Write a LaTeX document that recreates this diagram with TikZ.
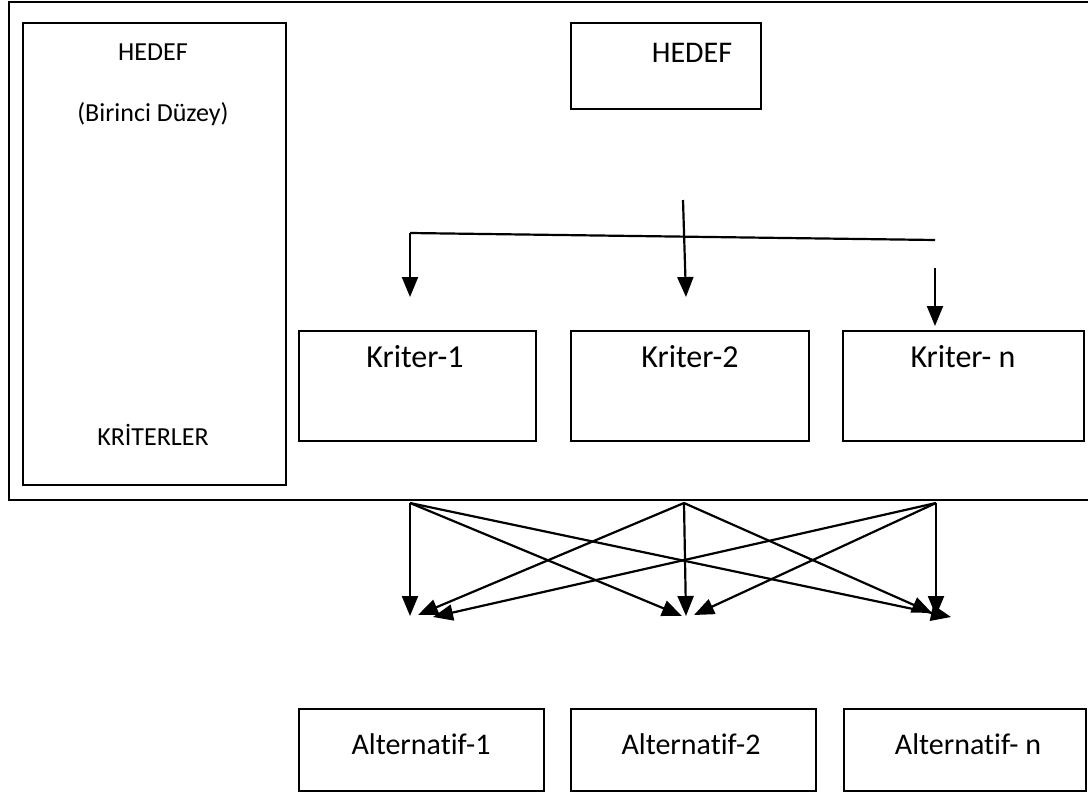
\documentclass[tikz,border=0pt]{standalone}
\usepackage{fontspec}
\setmainfont[Ligatures=NoCommon]{Carlito}
\usetikzlibrary{arrows.meta}
\begin{document}
\begin{tikzpicture}[x=1pt,y=-1pt,
  box/.style={draw, line width=1.7pt, inner sep=0pt, anchor=north west},
  lbl/.style={font=\fontsize{30}{36}\selectfont, inner sep=0pt, anchor=base},
  klbl/.style={font=\fontsize{32}{38}\selectfont, inner sep=0pt, anchor=base},
  slbl/.style={font=\fontsize{26}{31}\selectfont, inner sep=0pt, anchor=base},
  arr/.style={line width=2.2pt, -{Triangle[length=20pt,width=16pt]}},
  ln/.style={line width=2.2pt}]
\useasboundingbox (0,0) rectangle (1088,798);

% outer frame and the level boxes
\node[box, minimum width=1100pt, minimum height=498pt] (frame) at (8,1) {};
\node[box, minimum width=263pt, minimum height=462pt] (level) at (22,22) {};
\node[box, minimum width=190pt, minimum height=86pt] (goal) at (570,22) {};
\node[box, minimum width=237pt, minimum height=110pt] (k1) at (298,330) {};
\node[box, minimum width=238pt, minimum height=110pt] (k2) at (570,330) {};
\node[box, minimum width=241pt, minimum height=110pt] (kn) at (842,330) {};
\node[box, minimum width=245pt, minimum height=82pt] (a1) at (298,708) {};
\node[box, minimum width=245pt, minimum height=82pt] (a2) at (570,708) {};
\node[box, minimum width=242pt, minimum height=82pt] (an) at (843,708) {};

% labels
\node[slbl] (levelT) at (153,60) {HEDEF};
\node[slbl] (levelS) at (153,121) {(Birinci Düzey)};
\node[slbl] (levelB) at (153,445) {KRİTERLER};
\node[lbl] (goalT) at (692,62) {HEDEF};
\node[klbl] (k1T) at (415,367) {Kriter-1};
\node[klbl] (k2T) at (690,367) {Kriter-2};
\node[klbl] (knT) at (963,367) {Kriter- n};
\node[lbl] (a1T) at (421,754) {Alternatif-1};
\node[lbl] (a2T) at (691,754) {Alternatif-2};
\node[lbl] (anT) at (968,754) {Alternatif- n};

% goal to criteria
\coordinate (bl) at (410,233);
\coordinate (br) at (935,240);
\coordinate (hs) at (683,200);
\coordinate (ht) at (686,297);
\coordinate (k1t) at (410,297);
\coordinate (kns) at (935,268);
\coordinate (knt) at (935,326);
\draw[ln] (bl) -- (br);
\draw[arr] (bl) -- (k1t);
\draw[arr] (hs) -- (ht);
\draw[arr] (kns) -- (knt);

% criteria to alternatives
\coordinate (o1) at (410,503);
\coordinate (o2) at (684,503);
\coordinate (o3) at (936,503);
\coordinate (t11) at (410,616);
\coordinate (t21) at (418,615);
\coordinate (t31) at (433,617);
\coordinate (t12) at (682,616);
\coordinate (t22) at (686,616);
\coordinate (t32) at (694,615);
\coordinate (t23) at (932,613);
\coordinate (t33) at (936,616);
\coordinate (t13) at (951,617);
\foreach \s/\t in {o1/t11,o1/t12,o1/t13,o2/t21,o2/t22,o2/t23,o3/t31,o3/t32,o3/t33}
  \draw[arr] (\s) -- (\t);
\end{tikzpicture}
\end{document}
